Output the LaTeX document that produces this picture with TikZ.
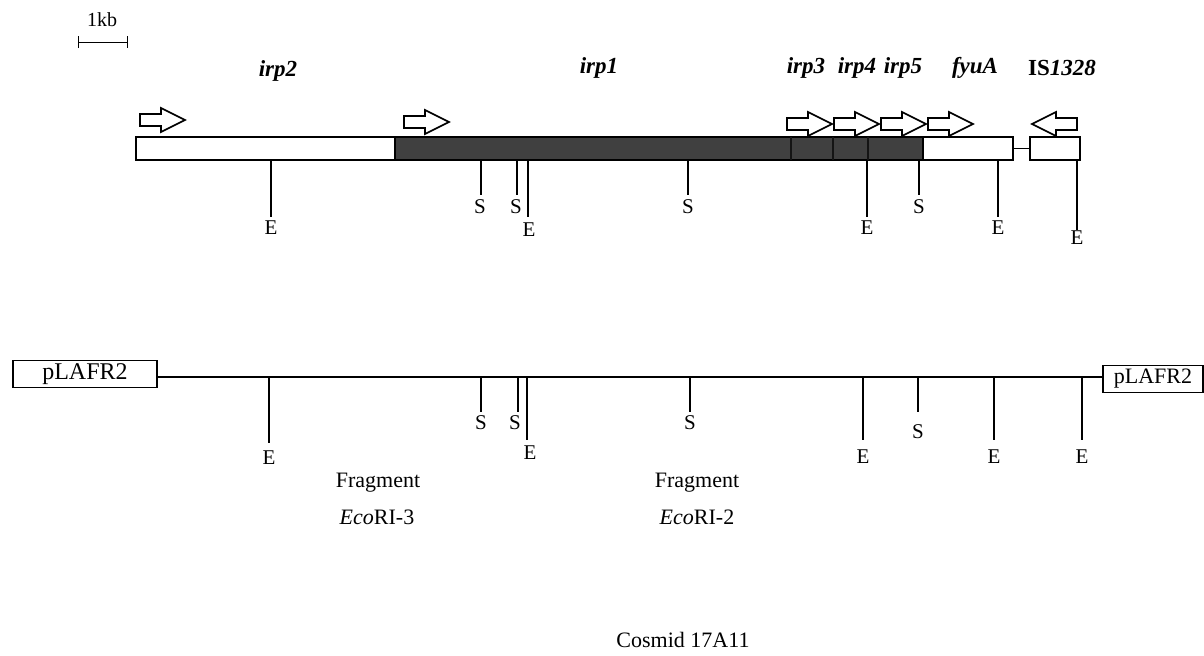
\documentclass[tikz,border=0pt]{standalone}
\usepackage{fontspec}
\setmainfont{Liberation Serif}
\usetikzlibrary{positioning, arrows.meta}

\tikzset{
  seg/.style={draw, line width=0.8pt, inner sep=0pt, outer sep=0pt, minimum height=11.5pt, anchor=west},
  vecbox/.style={draw, line width=0.7pt, inner sep=0pt, outer sep=0pt, minimum height=13.5pt},
  gene/.style={font=\fontsize{11.5}{14}\selectfont\bfseries\itshape},
  site/.style={line width=0.7pt},
  sitelab/.style={inner sep=0pt, font=\fontsize{10.5}{12}\selectfont},
  genearrow/.style={line width=0.8pt, fill=white, line join=miter},
}

\begin{document}
\begin{tikzpicture}[x=0.5pt, y=-0.5pt, font=\fontsize{11}{13}\selectfont]
    \useasboundingbox (0,0) rectangle (1204,655);

    % Skala 1kb
    \node[font=\fontsize{10}{12}\selectfont] (kb) at (102,20) {1kb};
    \coordinate (kbL) at (78,42);
    \coordinate (kbR) at (128,42);
    \draw[line width=0.5pt, {Bar[width=6pt]}-{Bar[width=6pt]}] (kbL) -- (kbR);

    % Gennamen
    \node[gene] (lirp2) at (278,71) {irp2};
    \node[gene] (lirp1) at (599,68) {irp1};
    \node[gene] (lirp3) at (806,68) {irp3};
    \node[gene] (lirp4) at (857,68) {irp4};
    \node[gene] (lirp5) at (903,68) {irp5};
    \node[gene] (lfyuA) at (975,68) {fyuA};
    \node[gene, font=\fontsize{11.5}{14}\selectfont\bfseries] (lis) at (1062,68) {IS\textit{1328}};

    % Transkriptionsrichtung
    \foreach \ax/\ay in {140/120, 404/122, 787/124, 834/124, 881/124, 928/124} {
        \draw[genearrow] (\ax,\ay-6) -- ++(21,0) -- ++(0,-6) -- (\ax+45,\ay)
            -- (\ax+21,\ay+12) -- ++(0,-6) -- (\ax,\ay+6) -- cycle;
    }
    \draw[genearrow] (1077,118) -- ++(-21,0) -- ++(0,-6) -- (1032,124)
        -- (1056,136) -- ++(0,-6) -- (1077,130) -- cycle;

    % Genkarte oben
    \node[seg, minimum width=129.5pt] (irp2seg) at (136,148.5) {};
    \node[seg, minimum width=264pt, fill=black!75, right=0pt of irp2seg] (irp1seg) {};
    \node[seg, minimum width=45pt, right=0pt of irp1seg] (fyuAseg) {};
    \node[seg, minimum width=25pt] (isseg) at (1030,148.5) {};
    \draw[line width=0.8pt] (fyuAseg) -- (isseg);
    \foreach \x in {791,833,868} {
        \draw[black!92, line width=0.6pt] (\x,137) -- (\x,160);
    }

    % Schnittstellen oben
    \foreach \x/\lx/\lab/\ye/\ly in {271/271/E/217/228, 481/480/S/195/207,
        517/516/S/195/207, 528/529/E/217/230, 688/688/S/195/207,
        867/867/E/217/228, 919/919/S/195/207, 998/998/E/217/228,
        1077/1077/E/230/238} {
        \draw[site] (\x,160) -- (\x,\ye);
        \node[sitelab] (top\lab\x) at (\lx,\ly) {\lab};
    }

    % Cosmid unten
    \node[vecbox, minimum width=72pt, font=\fontsize{12}{14}\selectfont] (vecL) at (85,374) {pLAFR2};
    \node[vecbox, minimum width=50pt] (vecR) at (1153,379) {pLAFR2};
    \draw[line width=0.7pt] (vecL.east |- 0,377) -- (vecR.west |- 0,377);

    % Schnittstellen unten
    \foreach \x/\lx/\lab/\ye/\ly in {269/269/E/443/458, 481/481/S/412/423,
        518/515/S/412/423, 527/530/E/440/453, 690/690/S/412/423,
        863/863/E/440/457, 918/918/S/412/432, 994/994/E/440/457,
        1082/1082/E/440/457} {
        \draw[site] (\x,377) -- (\x,\ye);
        \node[sitelab] (bot\lab\x) at (\lx,\ly) {\lab};
    }

    % Fragmente
    \node (frag3) at (378,483) {Fragment};
    \node (eco3) at (377,517) {\textit{Eco}RI-3};
    \node (frag2) at (697,483) {Fragment};
    \node (eco2) at (697,517) {\textit{Eco}RI-2};

    \node (cosmid) at (683,640) {Cosmid 17A11};
\end{tikzpicture}
\end{document}
